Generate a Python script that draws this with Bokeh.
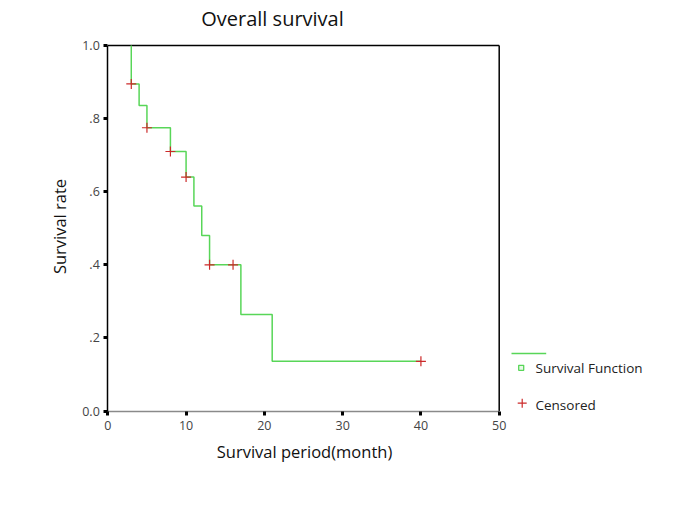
import math
from bokeh.plotting import figure
from bokeh.models import Range1d, FixedTicker, Label
from bokeh.embed import file_html
from bokeh.resources import INLINE

# ---- data ----
step_times = [3, 3, 4, 5, 8, 10, 11, 12, 13, 17, 21, 40]
step_surv = [1.0, 0.895, 0.836, 0.775, 0.710, 0.640, 0.561, 0.480, 0.400, 0.264, 0.136, 0.136]
cens_times = [3, 5, 8, 10, 13, 16, 40]
cens_surv = [0.895, 0.775, 0.710, 0.640, 0.400, 0.400, 0.136]
x_ticks = [0, 10, 20, 30, 40, 50]
y_ticks = [0.0, 0.2, 0.4, 0.6, 0.8, 1.0]
y_tick_labels = ["0.0", ".2", ".4", ".6", ".8", "1.0"]
X_MAX = 50
Y_MAX = 1.0

FONT = "Open Sans"
GREEN = "#58d658"
RED = "#cc2a2a"
TXT = "#111111"

W, H = 677, 508
# pixel geometry of the plot box (page pixels)
PX0, PX1 = 107.3, 498.7     # x = 0 .. 50
PY0, PY1 = 410.5, 45.0      # y = 0 .. 1
sx = (PX1 - PX0) / X_MAX
sy = (PY0 - PY1) / Y_MAX


def dx(px):
    return (px - PX0) / sx


def dy(py):
    return (PY0 - py) / sy


p = figure(width=W, height=H, output_backend="svg", toolbar_location=None,
           x_range=Range1d(dx(0), dx(W)), y_range=Range1d(dy(H), dy(0)),
           min_border=0, min_border_left=0, min_border_right=0,
           min_border_top=0, min_border_bottom=0)
p.title.visible = False
p.outline_line_color = None
p.xgrid.visible = False
p.ygrid.visible = False
p.background_fill_color = "white"
p.border_fill_color = "white"

# axes, fixed at the data origin
xa = p.xaxis[0]
xa.fixed_location = 0
xa.bounds = (0, X_MAX)
xa.ticker = FixedTicker(ticks=x_ticks)
xa.axis_line_color = "#8a8a8a"
xa.axis_line_width = 1.5
xa.major_tick_line_color = "black"
xa.major_tick_line_width = 3
xa.major_tick_out = 4
xa.major_tick_in = 0
xa.minor_tick_line_color = None
xa.major_label_text_font = FONT
xa.major_label_text_font_size = "12.5px"
xa.major_label_text_color = "#444444"
xa.major_label_standoff = 6

ya = p.yaxis[0]
ya.fixed_location = 0
ya.bounds = (0, Y_MAX)
ya.ticker = FixedTicker(ticks=y_ticks)
ya.major_label_overrides = {t: l for t, l in zip(y_ticks, y_tick_labels)}
ya.axis_line_color = "black"
ya.axis_line_width = 1.5
ya.major_tick_line_color = "black"
ya.major_tick_line_width = 3
ya.major_tick_out = 4
ya.major_tick_in = 0
ya.minor_tick_line_color = None
ya.major_label_text_font = FONT
ya.major_label_text_font_size = "12.5px"
ya.major_label_text_color = "#444444"
ya.major_label_standoff = 4

# frame top and right edges
p.multi_line(xs=[[0, X_MAX], [X_MAX, X_MAX]], ys=[[Y_MAX, Y_MAX], [0, Y_MAX]],
             line_color="black", line_width=1.5)

# survival curve
p.step(step_times, step_surv, mode="after", line_color=GREEN, line_width=1.5)
p.scatter(cens_times, cens_surv, marker="cross", size=10, line_color=RED, line_width=1.2)

# titles
p.add_layout(Label(x=dx(272), y=dy(18), text="Overall survival", text_font=FONT,
                   text_font_size="20px", text_align="center", text_baseline="middle",
                   text_color=TXT))
p.add_layout(Label(x=dx(304), y=dy(451), text="Survival period(month)", text_font=FONT,
                   text_font_size="16.5px", text_align="center", text_baseline="middle",
                   text_color=TXT))
p.add_layout(Label(x=dx(59), y=dy(226), text="Survival rate", text_font=FONT,
                   text_font_size="16.5px", text_align="center", text_baseline="middle",
                   angle=math.pi / 2, text_color=TXT))

# legend (drawn manually)
p.line([dx(511), dx(545.7)], [dy(353), dy(353)], line_color=GREEN, line_width=1.5)
p.scatter([dx(520.7)], [dy(367.3)], marker="square", size=5, fill_color="#e8f8e8",
          line_color=GREEN, line_width=1.3)
p.scatter([dx(521.7)], [dy(402.7)], marker="cross", size=9, line_color=RED, line_width=1.2)
p.add_layout(Label(x=dx(535), y=dy(367.3), text="Survival Function", text_font=FONT,
                   text_font_size="13.5px", text_baseline="middle", text_color="#222222"))
p.add_layout(Label(x=dx(535), y=dy(404), text="Censored", text_font=FONT,
                   text_font_size="13.5px", text_baseline="middle", text_color="#222222"))

open("out.html", "w").write(file_html(p, INLINE))
